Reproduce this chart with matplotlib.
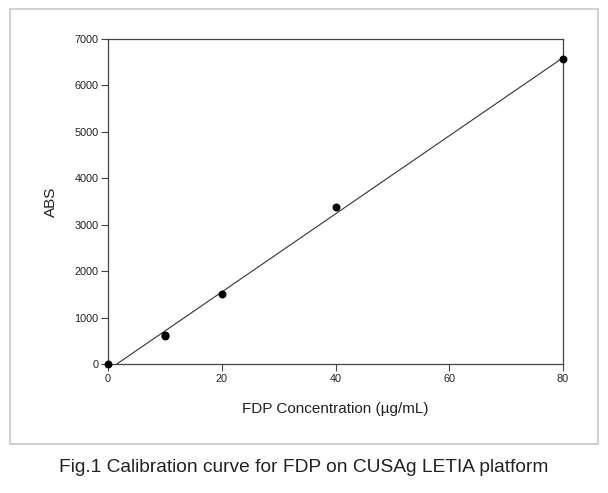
import numpy as np
import matplotlib
matplotlib.use("Agg")
import matplotlib.pyplot as plt
from matplotlib.patches import Rectangle

plt.rcParams['font.family'] = ['Liberation Sans', 'DejaVu Sans']

# data
conc = [0, 10, 10, 20, 40, 80]
abs_vals = [0, 600, 630, 1500, 3380, 6560]
x_ticks = [0, 20, 40, 60, 80]
y_ticks = [0, 1000, 2000, 3000, 4000, 5000, 6000, 7000]
x_label = "FDP Concentration (\u00b5g/mL)"
y_label = "ABS"
caption = "Fig.1 Calibration curve for FDP on CUSAg LETIA platform"

fig = plt.figure(figsize=(6.08, 4.93), dpi=100)
ax = fig.add_axes([108/608, 1-364/493, (563-108)/608, (364-39)/493])

slope, intercept = np.polyfit(conc, abs_vals, 1)
x0 = -intercept / slope
xs = np.array([x0, max(conc)])
ax.plot(xs, slope * xs + intercept, color='#333333', lw=0.8)
ax.scatter(conc, abs_vals, s=22, color='black', zorder=3, clip_on=False)

ax.set_xlim(0, 80)
ax.set_ylim(0, 7000)
ax.set_xticks(x_ticks)
ax.set_yticks(y_ticks)
ax.tick_params(direction='out', length=5, width=0.8, labelsize=7.8, pad=2,
               color='#444444', labelcolor='#222222')
for s in ax.spines.values():
    s.set_color('#444444')
    s.set_linewidth(0.9)
ax.set_xlabel(x_label, fontsize=11, labelpad=13, color='#222222')
ax.set_ylabel(y_label, fontsize=11, labelpad=12, color='#222222')

fig.patches.append(Rectangle((10/608, 1-444/493), (598-10)/608, (444-9)/493,
                             transform=fig.transFigure, fill=False,
                             edgecolor='#c8c8c8', lw=1.2))
fig.text(304/608, 1-467/493, caption, ha='center', va='center', fontsize=13.8,
         color='#222222')

fig.savefig("out.png", dpi=100)
